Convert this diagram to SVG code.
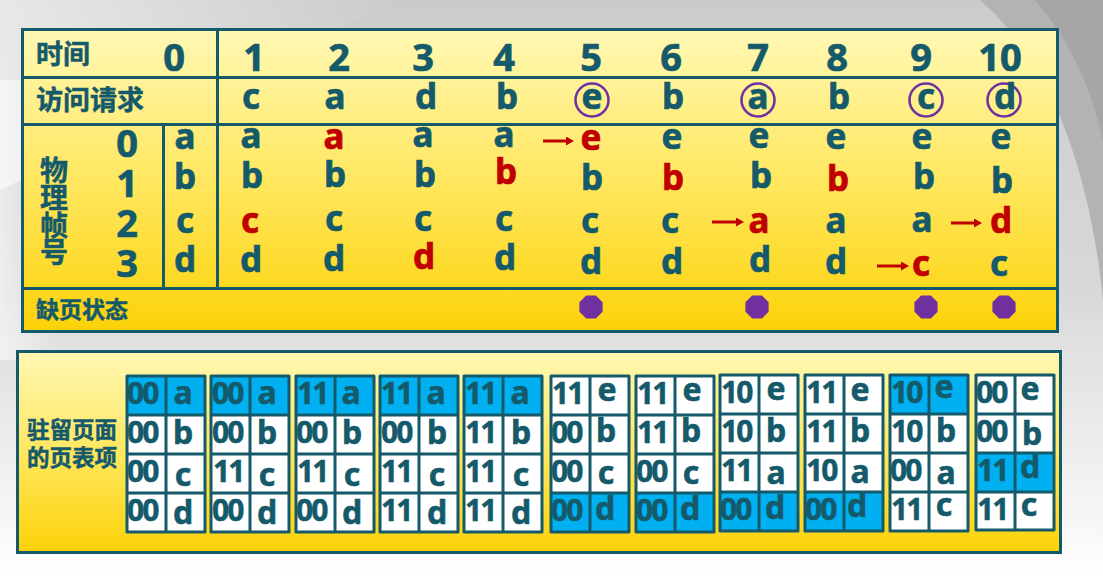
<svg xmlns="http://www.w3.org/2000/svg" width="1103" height="576" viewBox="0 0 1103 576">
<defs>
<linearGradient id="bg" x1="0" y1="0" x2="0" y2="1">
<stop offset="0" stop-color="#cbcbcb"/>
<stop offset="0.5" stop-color="#d8d8d8"/>
<stop offset="0.62" stop-color="#e2e2e2"/>
<stop offset="0.9" stop-color="#f6f6f6"/>
<stop offset="1" stop-color="#ffffff"/>
</linearGradient>
<linearGradient id="lt" x1="0" y1="0" x2="1" y2="0">
<stop offset="0" stop-color="#ffffff" stop-opacity="0.55"/>
<stop offset="1" stop-color="#ffffff" stop-opacity="0"/>
</linearGradient>
<linearGradient id="yl" x1="0" y1="0" x2="0" y2="1">
<stop offset="0" stop-color="#FFF8B4"/>
<stop offset="0.5" stop-color="#FFE760"/>
<stop offset="1" stop-color="#FCD208"/>
</linearGradient>
<marker id="ah" markerWidth="8" markerHeight="9" refX="0" refY="4.5" orient="auto" markerUnits="userSpaceOnUse">
<path d="M0,0 L8,4.5 L0,9 Z" fill="#C00000"/>
</marker>
<polygon id="oct" points="4.8,-11.6 11.6,-4.8 11.6,4.8 4.8,11.6 -4.8,11.6 -11.6,4.8 -11.6,-4.8 -4.8,-11.6" fill="#7030A0"/>
<style>
.box{fill:url(#yl);stroke:#155A6A;stroke-width:3}
.ln{stroke:#155A6A;stroke-width:3;fill:none}
.cn{font-family:"Noto Sans CJK SC","Noto Sans",sans-serif;font-weight:bold;fill:#155A6A;stroke:#155A6A;stroke-width:0.5}
.t{font-family:"Noto Sans","Open Sans",sans-serif;font-weight:bold;fill:#155A6A;stroke:#155A6A;stroke-width:0.7;text-anchor:middle}
.h{font-size:38px}
.r{font-size:35px}
.red{fill:#C00000;stroke:#C00000}
.circ{fill:none;stroke:#7030A0;stroke-width:2.5}
.arr{stroke:#C00000;stroke-width:3;fill:none;marker-end:url(#ah)}
.tb{fill:#ffffff}
.hl{fill:#00B0F0}
.gr{fill:none;stroke:#155A6A;stroke-width:3;stroke-linejoin:round}
.n{font-family:"Noto Sans","Open Sans",sans-serif;font-weight:bold;font-size:30px;letter-spacing:-2px;fill:#155A6A;stroke:#155A6A;stroke-width:0.5}
.l{font-family:"Noto Sans","Open Sans",sans-serif;font-weight:bold;font-size:32px;fill:#155A6A;stroke:#155A6A;stroke-width:0.6;text-anchor:middle}
</style>
</defs>

<!-- background -->
<rect width="1103" height="576" fill="url(#bg)"/>
<path d="M0,0 L400,0 L0,190 Z" fill="url(#lt)"/>
<rect x="0" y="80" width="60" height="280" fill="url(#lt)"/>
<path d="M980,0 C1050,60 1090,170 1103,300 L1103,0 Z" fill="#b3b3b3"/>
<path d="M1035,0 C1070,40 1092,90 1103,140 L1103,0 Z" fill="#a6a6a6"/>

<!-- top table -->
<g id="top-table">
<rect class="box" x="22.5" y="29.5" width="1035" height="302"/>
<path class="ln" d="M22,77.5H1058 M22,124.5H1058 M22,288.5H1058 M217.5,29V288 M163.5,124V288"/>
</g>

<g id="row-time">
<text class="cn" x="36" y="64" font-size="27">时间</text>
<text class="t h" x="174" y="71">0</text>
<text class="t h" x="254" y="71">1</text>
<text class="t h" x="339" y="71">2</text>
<text class="t h" x="423" y="71">3</text>
<text class="t h" x="504" y="71">4</text>
<text class="t h" x="591" y="71">5</text>
<text class="t h" x="671" y="71">6</text>
<text class="t h" x="758" y="71">7</text>
<text class="t h" x="837" y="71">8</text>
<text class="t h" x="921" y="71">9</text>
<text class="t h" x="1000" y="71">10</text>
</g>

<g id="row-request">
<text class="cn" x="36" y="110" font-size="27">访问请求</text>
<text class="t r" x="251" y="109">c</text>
<text class="t r" x="335" y="109">a</text>
<text class="t r" x="426" y="109">d</text>
<text class="t r" x="507" y="109">b</text>
<circle class="circ" cx="592" cy="100" r="16.5"/>
<text class="t r" x="592" y="109">e</text>
<text class="t r" x="673" y="109">b</text>
<circle class="circ" cx="758" cy="100" r="16.5"/>
<text class="t r" x="758" y="109">a</text>
<text class="t r" x="839" y="109">b</text>
<circle class="circ" cx="926" cy="100" r="16.5"/>
<text class="t r" x="926" y="109">c</text>
<circle class="circ" cx="1004" cy="100" r="16.5"/>
<text class="t r" x="1005" y="109">d</text>
</g>

<g id="frames-label">
<text class="cn" x="54" y="156" font-size="28" writing-mode="vertical-rl" letter-spacing="-0.5">物理帧号</text>
<text class="t h" x="127" y="157">0</text>
<text class="t h" x="127" y="197">1</text>
<text class="t h" x="127" y="237">2</text>
<text class="t h" x="127" y="277">3</text>
</g>

<g id="col0">
<text class="t r" x="185" y="149">a</text>
<text class="t r" x="185" y="189">b</text>
<text class="t r" x="185" y="233">c</text>
<text class="t r" x="185" y="272">d</text>
</g>

<g id="col1">
<text class="t r" x="251" y="148">a</text>
<text class="t r" x="252" y="188">b</text>
<text class="t r red" x="250" y="233">c</text>
<text class="t r" x="251" y="272">d</text>
</g>
<g id="col2">
<text class="t r red" x="334" y="149">a</text>
<text class="t r" x="335" y="187">b</text>
<text class="t r" x="334" y="231">c</text>
<text class="t r" x="334" y="271">d</text>
</g>
<g id="col3">
<text class="t r" x="423" y="147">a</text>
<text class="t r" x="425" y="187">b</text>
<text class="t r" x="423" y="231">c</text>
<text class="t r red" x="424" y="269">d</text>
</g>
<g id="col4">
<text class="t r" x="504" y="147">a</text>
<text class="t r red" x="506" y="184">b</text>
<text class="t r" x="504" y="231">c</text>
<text class="t r" x="505" y="270">d</text>
</g>
<g id="col5">
<text class="t r red" x="591" y="150">e</text>
<text class="t r" x="592" y="190">b</text>
<text class="t r" x="590" y="233">c</text>
<text class="t r" x="591" y="274">d</text>
</g>
<g id="col6">
<text class="t r" x="672" y="149">e</text>
<text class="t r red" x="673" y="190">b</text>
<text class="t r" x="670" y="233">c</text>
<text class="t r" x="672" y="274">d</text>
</g>
<g id="col7">
<text class="t r" x="759" y="148">e</text>
<text class="t r" x="761" y="188">b</text>
<text class="t r red" x="759" y="233">a</text>
<text class="t r" x="760" y="272">d</text>
</g>
<g id="col8">
<text class="t r" x="836" y="149">e</text>
<text class="t r red" x="838" y="191">b</text>
<text class="t r" x="836" y="233">a</text>
<text class="t r" x="836" y="274">d</text>
</g>
<g id="col9">
<text class="t r" x="922" y="149">e</text>
<text class="t r" x="924" y="189">b</text>
<text class="t r" x="922" y="232">a</text>
<text class="t r red" x="921" y="276">c</text>
</g>
<g id="col10">
<text class="t r" x="1001" y="149">e</text>
<text class="t r" x="1002" y="193">b</text>
<text class="t r red" x="1001" y="233">d</text>
<text class="t r" x="999" y="276">c</text>
</g>

<g id="row-fault">
<text class="cn" x="36" y="318" font-size="23">缺页状态</text>
<use href="#oct" x="591" y="307"/>
<use href="#oct" x="757" y="307"/>
<use href="#oct" x="926" y="307"/>
<use href="#oct" x="1004" y="307"/>
</g>

<g id="connectors">
<line class="arr" x1="543" y1="141" x2="566" y2="141"/>
<line class="arr" x1="712" y1="222" x2="736" y2="222"/>
<line class="arr" x1="877" y1="266" x2="901" y2="266"/>
<line class="arr" x1="951" y1="223" x2="974" y2="223"/>
</g>

<!-- bottom box -->
<g id="bottom-box">
<rect class="box" x="17.5" y="351.5" width="1043" height="201"/>
<text class="cn" x="27" y="438" font-size="22.5">驻留页面</text>
<text class="cn" x="27" y="466" font-size="22.5">的页表项</text>
</g>

<g id="pt1">
<rect class="tb" x="127" y="376" width="78" height="156"/>
<rect class="hl" x="127" y="376" width="78" height="39"/>
<text class="n" x="127" y="404">00</text><text class="n" x="127" y="443">00</text><text class="n" x="127" y="482">00</text><text class="n" x="127" y="521">00</text>
<text class="l" x="183" y="404">a</text><text class="l" x="183" y="444">b</text><text class="l" x="183" y="486">c</text><text class="l" x="183" y="524">d</text>
<path class="gr" d="M127,376h78v156h-78z M166,376v156 M127,415h78 M127,454h78 M127,493h78"/>
</g>

<g id="pt2">
<rect class="tb" x="211" y="376" width="78" height="156"/>
<rect class="hl" x="211" y="376" width="78" height="39"/>
<text class="n" x="212" y="404">00</text><text class="n" x="212" y="443">00</text><text class="n" x="213" y="482">11</text><text class="n" x="212" y="521">00</text>
<text class="l" x="267" y="404">a</text><text class="l" x="267" y="444">b</text><text class="l" x="267" y="486">c</text><text class="l" x="267" y="524">d</text>
<path class="gr" d="M211,376h78v156h-78z M250,376v156 M211,415h78 M211,454h78 M211,493h78"/>
</g>

<g id="pt3">
<rect class="tb" x="296" y="376" width="78" height="156"/>
<rect class="hl" x="296" y="376" width="78" height="39"/>
<text class="n" x="297" y="404">11</text><text class="n" x="296" y="443">00</text><text class="n" x="297" y="482">11</text><text class="n" x="296" y="521">00</text>
<text class="l" x="351" y="404">a</text><text class="l" x="352" y="444">b</text><text class="l" x="352" y="486">c</text><text class="l" x="352" y="524">d</text>
<path class="gr" d="M296,376h78v156h-78z M335,376v156 M296,415h78 M296,454h78 M296,493h78"/>
</g>

<g id="pt4">
<rect class="tb" x="380" y="376" width="78" height="156"/>
<rect class="hl" x="380" y="376" width="78" height="39"/>
<text class="n" x="381" y="404">11</text><text class="n" x="381" y="443">00</text><text class="n" x="381" y="482">11</text><text class="n" x="381" y="521">11</text>
<text class="l" x="436" y="404">a</text><text class="l" x="437" y="444">b</text><text class="l" x="437" y="486">c</text><text class="l" x="437" y="524">d</text>
<path class="gr" d="M380,376h78v156h-78z M419,376v156 M380,415h78 M380,454h78 M380,493h78"/>
</g>

<g id="pt5">
<rect class="tb" x="464" y="376" width="78" height="156"/>
<rect class="hl" x="464" y="376" width="78" height="39"/>
<text class="n" x="465" y="404">11</text><text class="n" x="465" y="443">11</text><text class="n" x="465" y="482">11</text><text class="n" x="465" y="521">11</text>
<text class="l" x="520" y="404">a</text><text class="l" x="521" y="444">b</text><text class="l" x="521" y="486">c</text><text class="l" x="521" y="524">d</text>
<path class="gr" d="M464,376h78v156h-78z M503,376v156 M464,415h78 M464,454h78 M464,493h78"/>
</g>

<g id="pt6">
<rect class="tb" x="551" y="376" width="78" height="156"/>
<rect class="hl" x="551" y="493" width="78" height="39"/>
<text class="n" x="552" y="404">11</text><text class="n" x="551" y="443">00</text><text class="n" x="551" y="482">00</text><text class="n" x="551" y="521">00</text>
<text class="l" x="607" y="401">e</text><text class="l" x="606" y="442">b</text><text class="l" x="606" y="484">c</text><text class="l" x="605" y="520">d</text>
<path class="gr" d="M551,376h78v156h-78z M590,376v156 M551,415h78 M551,454h78 M551,493h78"/>
</g>

<g id="pt7">
<rect class="tb" x="636" y="376" width="78" height="156"/>
<rect class="hl" x="636" y="493" width="78" height="39"/>
<text class="n" x="637" y="404">11</text><text class="n" x="637" y="443">11</text><text class="n" x="636" y="482">00</text><text class="n" x="636" y="521">00</text>
<text class="l" x="692" y="401">e</text><text class="l" x="691" y="442">b</text><text class="l" x="691" y="484">c</text><text class="l" x="690" y="520">d</text>
<path class="gr" d="M636,376h78v156h-78z M675,376v156 M636,415h78 M636,454h78 M636,493h78"/>
</g>

<g id="pt8">
<rect class="tb" x="720" y="375" width="78" height="156"/>
<rect class="hl" x="720" y="492" width="78" height="39"/>
<text class="n" x="721" y="403">10</text><text class="n" x="721" y="442">10</text><text class="n" x="721" y="481">11</text><text class="n" x="720" y="520">00</text>
<text class="l" x="776" y="400">e</text><text class="l" x="776" y="442">b</text><text class="l" x="776" y="484">a</text><text class="l" x="775" y="519">d</text>
<path class="gr" d="M720,375h78v156h-78z M759,375v156 M720,414h78 M720,453h78 M720,492h78"/>
</g>

<g id="pt9">
<rect class="tb" x="805" y="375" width="78" height="156"/>
<rect class="hl" x="805" y="492" width="78" height="39"/>
<text class="n" x="806" y="403">11</text><text class="n" x="806" y="442">11</text><text class="n" x="806" y="481">10</text><text class="n" x="805" y="520">00</text>
<text class="l" x="860" y="401">e</text><text class="l" x="860" y="442">b</text><text class="l" x="860" y="483">a</text><text class="l" x="857" y="517">d</text>
<path class="gr" d="M805,375h78v156h-78z M844,375v156 M805,414h78 M805,453h78 M805,492h78"/>
</g>

<g id="pt10">
<rect class="tb" x="890" y="375" width="78" height="156"/>
<rect class="hl" x="890" y="375" width="78" height="39"/>
<text class="n" x="891" y="403">10</text><text class="n" x="891" y="442">10</text><text class="n" x="890" y="481">00</text><text class="n" x="891" y="520">11</text>
<text class="l" x="944" y="398">e</text><text class="l" x="946" y="442">b</text><text class="l" x="946" y="484">a</text><text class="l" x="944" y="516">c</text>
<path class="gr" d="M890,375h78v156h-78z M929,375v156 M890,414h78 M890,453h78 M890,492h78"/>
</g>

<g id="pt11">
<rect class="tb" x="976" y="375" width="78" height="155"/>
<rect class="hl" x="976" y="453" width="78" height="39"/>
<text class="n" x="976" y="403">00</text><text class="n" x="976" y="442">00</text><text class="n" x="977" y="481">11</text><text class="n" x="977" y="520">11</text>
<text class="l" x="1030" y="400">e</text><text class="l" x="1032" y="445">b</text><text class="l" x="1030" y="478">d</text><text class="l" x="1029" y="516">c</text>
<path class="gr" d="M976,375h78v155h-78z M1015,375v155 M976,414h78 M976,453h78 M976,492h78"/>
</g>
</svg>
